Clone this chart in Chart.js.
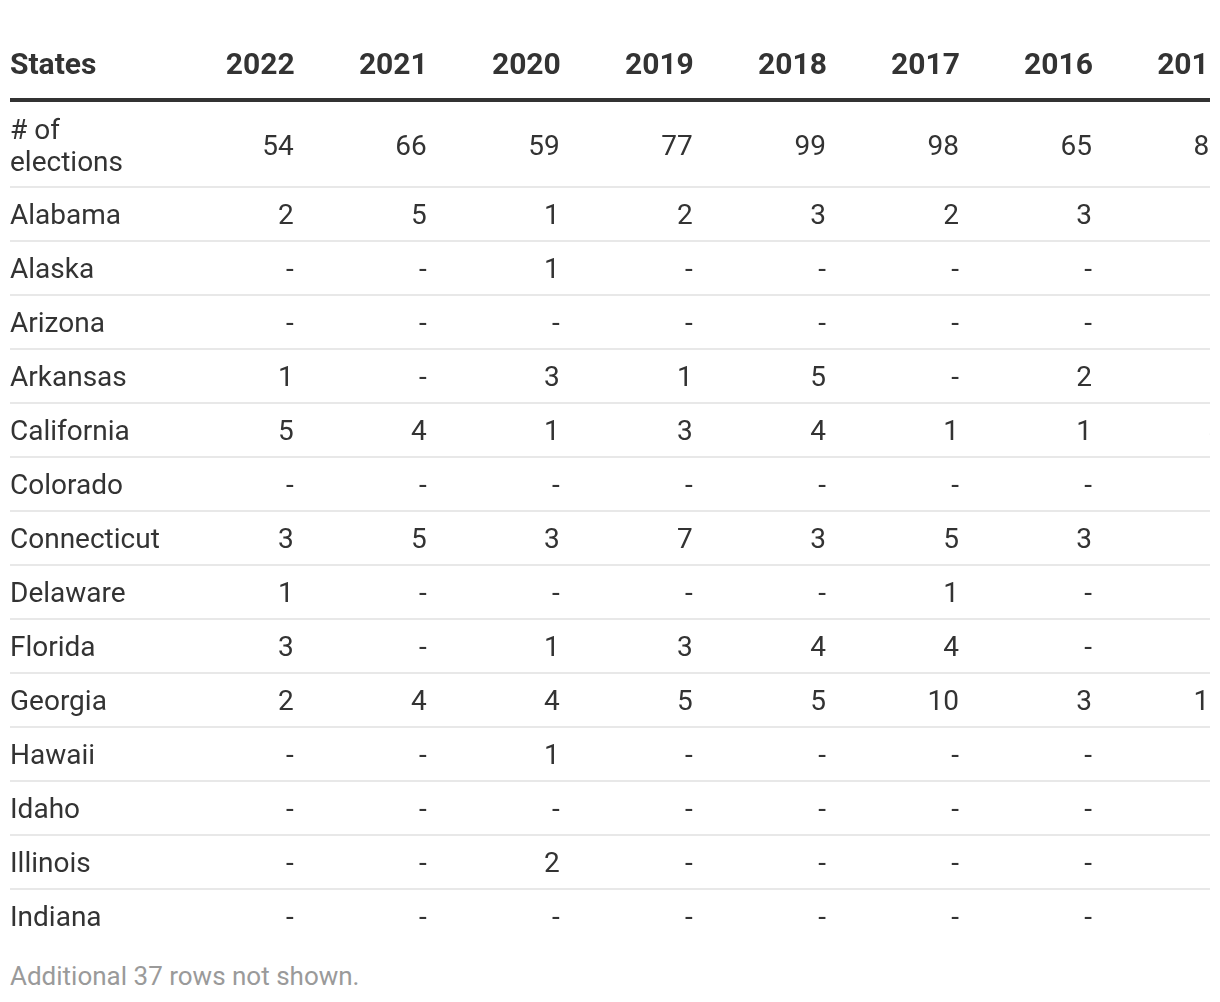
<!DOCTYPE html>
<html>
<head>
<meta charset="utf-8">
<script src="https://cdn.jsdelivr.net/npm/chart.js@4.4.1/dist/chart.umd.min.js"></script>
<style>
  body { margin: 0; background: #fff; font-family: Roboto, sans-serif; }
  #wrap { width: 1210px; overflow: hidden; }
  #wrap canvas { display: block; }
  #note { margin: 16px 0 0 10px; font-size: 26px; color: #9a9a9a; }
</style>
</head>
<body>
<div id="wrap"><canvas id="table" width="1240" height="945"></canvas></div>
<div id="note">Additional 37 rows not shown.</div>
<script>
const years = ["2022", "2021", "2020", "2019", "2018", "2017", "2016", "2015"];
const states = ["Alabama", "Alaska", "Arizona", "Arkansas", "California", "Colorado", "Connecticut",
  "Delaware", "Florida", "Georgia", "Hawaii", "Idaho", "Illinois", "Indiana"];
const elections = [54, 66, 59, 77, 99, 98, 65, 84];

// one array per year, same order as states; null = "-"
const y2022 = [2, null, null, 1, 5, null, 3, 1, 3, 2, null, null, null, null];
const y2021 = [5, null, null, null, 4, null, 5, null, null, 4, null, null, null, null];
const y2020 = [1, 1, null, 3, 1, null, 3, null, 1, 4, 1, null, 2, null];
const y2019 = [2, null, null, 1, 3, null, 7, null, 3, 5, null, null, null, null];
const y2018 = [3, null, null, 5, 4, null, 3, null, 4, 5, null, null, null, null];
const y2017 = [2, null, null, null, 1, null, 5, 1, 4, 10, null, null, null, null];
const y2016 = [3, null, null, 2, 1, null, 3, null, null, 3, null, null, null, null];
const y2015 = [3, null, null, 2, 4, null, 5, null, 2, 12, null, null, 1, null];
const byYear = [y2022, y2021, y2020, y2019, y2018, y2017, y2016, y2015];

// layout in row units (one plain row = 1)
const FIRST_ROW = 85 / 54;   // "# of elections" wraps onto two lines
const HEAD = 102 / 54;       // header band above the rule
const HEAD_MID = -0.713;
const rowCenter = (r) => (r === 0 ? FIRST_ROW / 2 : FIRST_ROW + r - 0.5);

const TEXT = "#333";
const BODY_FONT = "28px Roboto";
const HEAD_FONT = "bold 30px Roboto";

const datasets = years.map((yr, i) => ({
  label: yr,
  data: [elections[i], ...byYear[i]].map((v, r) => ({ x: i + 1, y: rowCenter(r), v: v })),
  pointRadius: 0,
}));

const tablePlugin = {
  id: "tableText",
  afterDraw(chart) {
    const { ctx, chartArea, scales } = chart;
    const x = scales.x, y = scales.y;
    const left = chartArea.left;
    const right = chart.width;

    ctx.save();
    // row separators
    ctx.strokeStyle = "#e8e8e8";
    ctx.lineWidth = 2;
    for (let k = 0; k < states.length; k++) {
      const py = y.getPixelForValue(FIRST_ROW + k);
      ctx.beginPath();
      ctx.moveTo(left, py);
      ctx.lineTo(right, py);
      ctx.stroke();
    }
    // header rule
    ctx.strokeStyle = "#333";
    ctx.lineWidth = 4;
    const ry = y.getPixelForValue(0) - 2;
    ctx.beginPath();
    ctx.moveTo(left, ry);
    ctx.lineTo(right, ry);
    ctx.stroke();

    ctx.fillStyle = TEXT;
    ctx.textBaseline = "alphabetic";

    // header
    ctx.font = HEAD_FONT;
    const hy = y.getPixelForValue(HEAD_MID) + 11;
    ctx.textAlign = "left";
    ctx.fillText("States", left, hy);
    ctx.textAlign = "right";
    years.forEach((yr, i) => ctx.fillText(yr, x.getPixelForValue(i + 1), hy));

    // row labels
    ctx.font = BODY_FONT;
    ctx.textAlign = "left";
    const c0 = y.getPixelForValue(rowCenter(0));
    ctx.fillText("# of", left, c0 - 16 + 10);
    ctx.fillText("elections", left, c0 + 16 + 10);
    states.forEach((s, r) => ctx.fillText(s, left, y.getPixelForValue(rowCenter(r + 1)) + 10));

    // cells
    ctx.textAlign = "right";
    chart.data.datasets.forEach((ds, di) => {
      chart.getDatasetMeta(di).data.forEach((pt, j) => {
        const v = ds.data[j].v;
        ctx.fillText(v == null ? "-" : String(v), pt.x - 1, pt.y + 10);
      });
    });
    ctx.restore();
  },
};

new Chart(document.getElementById("table"), {
  type: "scatter",
  data: { datasets: datasets },
  options: {
    responsive: false,
    animation: false,
    events: [],
    layout: { padding: { left: 10, right: 14, top: 0, bottom: 2 } },
    plugins: { legend: { display: false }, tooltip: { enabled: false } },
    scales: {
      x: { type: "linear", display: false, min: -1.14, max: 8 },
      y: { type: "linear", display: false, reverse: true, min: -HEAD, max: FIRST_ROW + states.length },
    },
  },
  plugins: [tablePlugin],
});
</script>
</body>
</html>
